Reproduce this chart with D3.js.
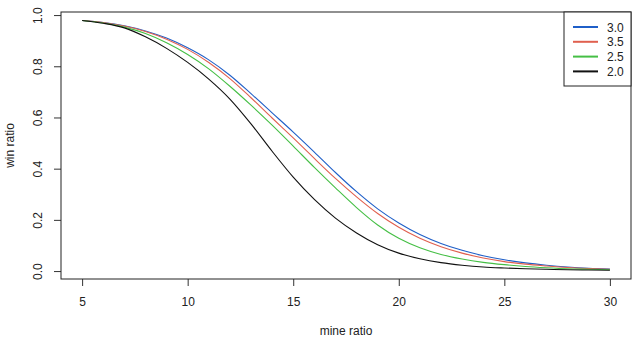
<!DOCTYPE html>
<html>
    <head>
        <meta charset="UTF-8">
        <script src="https://d3js.org/d3.v7.min.js"></script>
        <style>
            body { margin: 0; background: #fff; }
            text { font-family: "Liberation Sans", Arial, sans-serif; font-size: 12px; fill: #222; }
        </style>
    </head>

    <body>

        <svg id="canvas"></svg>

        <script>

            width = 640;
            height = 347;

            // mine ratio values along the x axis
            mineRatio = [5, 6, 7, 8, 9, 10, 11, 12, 13, 14, 15, 16, 17, 18, 19, 20,
                         21, 22, 23, 24, 25, 26, 27, 28, 29, 30];

            // win ratio for each series
            win30 = [0.979, 0.971, 0.958, 0.938, 0.910, 0.872, 0.825, 0.765, 0.693, 0.618, 0.543, 0.465, 0.385,
                     0.310, 0.243, 0.188, 0.143, 0.108, 0.081, 0.060, 0.044, 0.032, 0.023, 0.016, 0.011, 0.008];
            win35 = [0.979, 0.971, 0.957, 0.936, 0.906, 0.866, 0.815, 0.752, 0.677, 0.598, 0.520, 0.440, 0.362,
                     0.290, 0.225, 0.171, 0.128, 0.095, 0.070, 0.051, 0.037, 0.027, 0.020, 0.014, 0.010, 0.007];
            win25 = [0.979, 0.969, 0.953, 0.928, 0.892, 0.846, 0.790, 0.722, 0.648, 0.570, 0.488, 0.405, 0.325,
                     0.248, 0.180, 0.128, 0.091, 0.065, 0.047, 0.034, 0.025, 0.018, 0.013, 0.009, 0.007, 0.005];
            win20 = [0.979, 0.968, 0.950, 0.915, 0.870, 0.815, 0.750, 0.672, 0.575, 0.468, 0.367, 0.280, 0.207,
                     0.149, 0.103, 0.070, 0.048, 0.033, 0.023, 0.016, 0.012, 0.009, 0.007, 0.005, 0.004, 0.003];

            seriesNames = ["3.0", "3.5", "2.5", "2.0"];
            seriesColors = ["#1f5fc8", "#e0604f", "#45bf45", "#111111"];
            seriesValues = [win30, win35, win25, win20];

            xTicks = [5, 10, 15, 20, 25, 30];
            yTicks = [0.0, 0.2, 0.4, 0.6, 0.8, 1.0];

            // plot region (R style box)
            plotL = 61; plotR = 631; plotT = 12; plotB = 279;

            x = d3.scaleLinear().domain([4, 31]).range([plotL, plotR]);
            y = d3.scaleLinear().domain([-0.031, 1.012]).range([plotB, plotT]);

            canvas = d3.select("#canvas")
                .attr("width", width)
                .attr("height", height);

            line = d3.line()
                .x((d) => x(d[0]))
                .y((d) => y(d[1]))
                .curve(d3.curveMonotoneX);

            seriesValues.forEach((vals, i) => {
                canvas.append("path")
                    .datum(mineRatio.map((m, j) => [m, vals[j]]))
                    .attr("d", line)
                    .attr("style", "fill:none; stroke:" + seriesColors[i] + "; stroke-width:1.1;");
            });

            // x axis
            xAxis = canvas.append("g")
                .attr("transform", "translate(0," + plotB + ")")
                .call(d3.axisBottom(x).tickValues(xTicks).tickSize(7).tickPadding(11)
                    .tickFormat(d3.format("d")));
            xAxis.select(".domain").remove();
            xAxis.selectAll("line").attr("stroke", "#333");
            xAxis.selectAll("text").attr("style", "font-size:12px; fill:#222;");

            // y axis with vertical labels
            yAxis = canvas.append("g")
                .attr("transform", "translate(" + plotL + ",0)")
                .call(d3.axisLeft(y).tickValues(yTicks).tickSize(7).tickFormat(d3.format(".1f")));
            yAxis.select(".domain").remove();
            yAxis.selectAll("line").attr("stroke", "#333");
            yAxis.selectAll("text")
                .attr("x", null).attr("dy", null)
                .attr("text-anchor", "middle")
                .attr("transform", "translate(-19,0) rotate(-90)")
                .attr("style", "font-size:12px; fill:#222;");

            // box
            canvas.append("rect")
                .attr("x", plotL).attr("y", plotT)
                .attr("width", plotR - plotL).attr("height", plotB - plotT)
                .attr("style", "fill:none; stroke:#222; stroke-width:1;");

            canvas.append("text")
                .attr("x", (plotL + plotR) / 2).attr("y", 335)
                .attr("text-anchor", "middle")
                .text("mine ratio");

            canvas.append("text")
                .attr("transform", "translate(14," + (plotT + plotB) / 2 + ") rotate(-90)")
                .attr("text-anchor", "middle")
                .text("win ratio");

            // legend
            legend = canvas.append("g");
            legend.append("rect")
                .attr("x", 564).attr("y", plotT)
                .attr("width", plotR - 564).attr("height", 74)
                .attr("style", "fill:#fff; stroke:#222; stroke-width:1;");
            seriesNames.forEach((name, i) => {
                let ly = 27 + i * 14.8;
                legend.append("line")
                    .attr("x1", 573).attr("x2", 598)
                    .attr("y1", ly).attr("y2", ly)
                    .attr("style", "stroke:" + seriesColors[i] + "; stroke-width:2;");
                legend.append("text")
                    .attr("x", 607).attr("y", ly + 4.5)
                    .text(name);
            });

        </script>

    </body>

</html>
